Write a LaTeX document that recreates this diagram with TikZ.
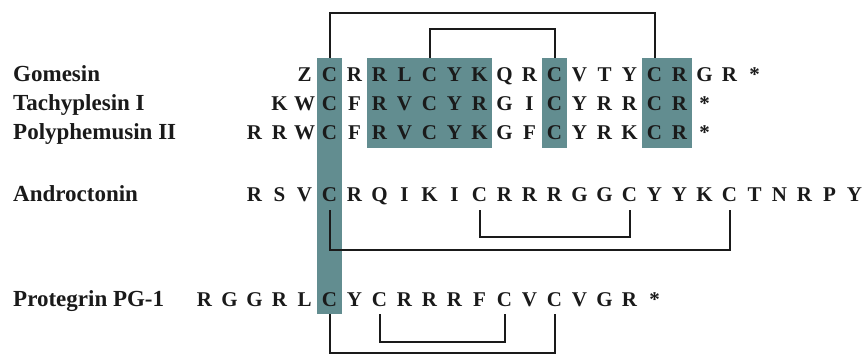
\documentclass[tikz,border=0pt]{standalone}
\usepackage{fontspec}
\setmainfont{Liberation Serif}
\usetikzlibrary{fit,backgrounds}
\definecolor{cysteal}{HTML}{628D90}
\definecolor{seqdark}{HTML}{1A1A1A}
\tikzset{
  res/.style={anchor=base,inner sep=0pt,minimum width=25pt,text height=24pt,text depth=8pt,font=\fontsize{21}{24}\selectfont\bfseries,text=seqdark},
  pname/.style={anchor=base west,inner sep=0pt,font=\fontsize{23}{26}\selectfont\bfseries,text=seqdark},
  cysbox/.style={fill=cysteal,inner sep=0pt},
  bond/.style={draw=seqdark,line width=2pt},
}
\begin{document}
\begin{tikzpicture}[x=1pt,y=1pt]
  \useasboundingbox (0,0) rectangle (867,-355);
  % peptide names and sequences, C of the first column at x=329.5
  \foreach \n/\y/\c/\t/\s in {
    g/82/-1/{Gomesin}/{Z,C,R,R,L,C,Y,K,Q,R,C,V,T,Y,C,R,G,R,*},
    t/111/-2/{Tachyplesin I}/{K,W,C,F,R,V,C,Y,R,G,I,C,Y,R,R,C,R,*},
    ph/140/-3/{Polyphemusin II}/{R,R,W,C,F,R,V,C,Y,K,G,F,C,Y,R,K,C,R,*},
    a/202/-3/{Androctonin}/{R,S,V,C,R,Q,I,K,I,C,R,R,R,G,G,C,Y,Y,K,C,T,N,R,P,Y},
    pr/306/-5/{Protegrin PG-1}/{R,G,G,R,L,C,Y,C,R,R,R,F,C,V,C,V,G,R,*}}{
    \node[pname](\n name) at (13,-\y){\t};
    \foreach \l [count=\i from \c] in \s
      \node[res](\n\i) at ({329.5+25*\i},-\y){\l};
  }
  \begin{scope}[on background layer]
    \node[cysbox,fit=(g0)(pr0)](box1){};
    \node[cysbox,fit=(g2)(ph6)](box2){};
    \node[cysbox,fit=(g9)(ph9)](box3){};
    \node[cysbox,fit=(g13)(ph14)](box4){};
  \end{scope}
  % disulfide bridges
  \draw[bond] (g0.north) -- ++(0,45) -| (g13.north);
  \draw[bond] (g4.north) -- ++(0,29) -| (g9.north);
  \draw[bond] (a0.south) -- ++(0,-40) -| (a16.south);
  \draw[bond] (a6.south) -- ++(0,-27) -| (a12.south);
  \draw[bond] (pr0.south) -- ++(0,-39) -| (pr9.south);
  \draw[bond] (pr2.south) -- ++(0,-28) -| (pr7.south);
\end{tikzpicture}
\end{document}
